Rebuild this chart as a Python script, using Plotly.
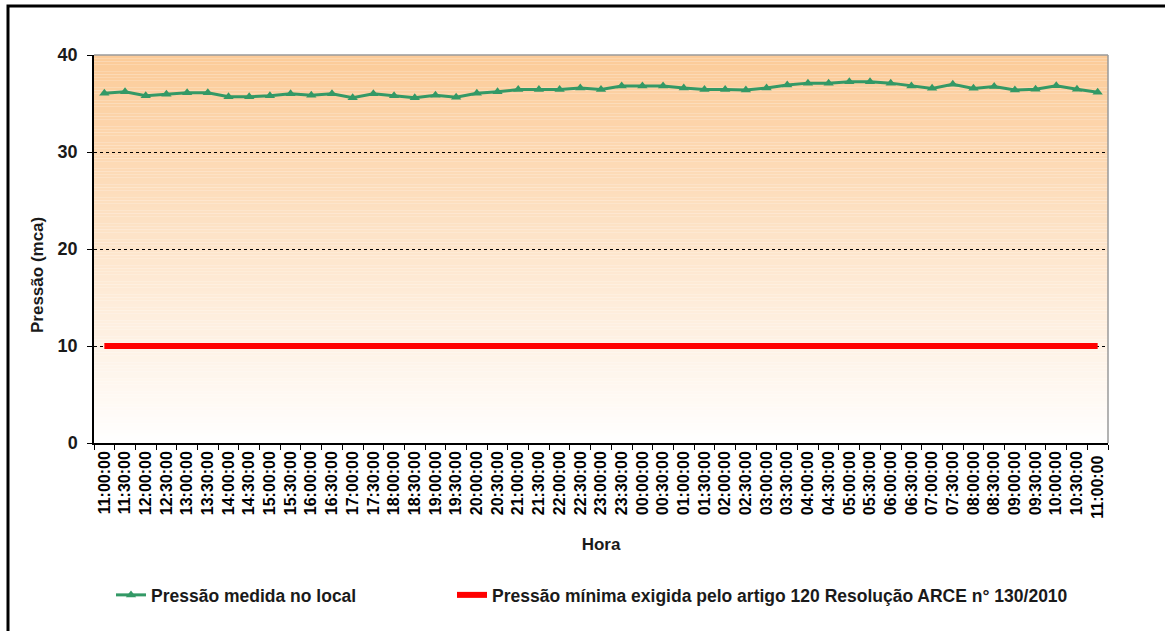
import plotly.graph_objects as go

hours = ["11:00:00", "11:30:00", "12:00:00", "12:30:00", "13:00:00", "13:30:00",
         "14:00:00", "14:30:00", "15:00:00", "15:30:00", "16:00:00", "16:30:00",
         "17:00:00", "17:30:00", "18:00:00", "18:30:00", "19:00:00", "19:30:00",
         "20:00:00", "20:30:00", "21:00:00", "21:30:00", "22:00:00", "22:30:00",
         "23:00:00", "23:30:00", "00:00:00", "00:30:00", "01:00:00", "01:30:00",
         "02:00:00", "02:30:00", "03:00:00", "03:30:00", "04:00:00", "04:30:00",
         "05:00:00", "05:30:00", "06:00:00", "06:30:00", "07:00:00", "07:30:00",
         "08:00:00", "08:30:00", "09:00:00", "09:30:00", "10:00:00", "10:30:00",
         "11:00:00 "]

pressao_medida = [36.05, 36.2, 35.8, 35.95, 36.1, 36.1, 35.7, 35.7, 35.8, 36.0,
                  35.85, 36.0, 35.6, 36.0, 35.8, 35.6, 35.85, 35.65, 36.05, 36.2,
                  36.45, 36.45, 36.45, 36.6, 36.45, 36.8, 36.8, 36.8, 36.6, 36.45,
                  36.45, 36.4, 36.6, 36.9, 37.1, 37.1, 37.25, 37.25, 37.1, 36.8,
                  36.56, 36.98, 36.56, 36.74, 36.4, 36.46, 36.84, 36.46, 36.15]

pressao_minima = [10] * len(hours)

name_medida = "Pressão medida no local"
name_minima = "Pressão mínima exigida pelo artigo 120 Resolução ARCE n° 130/2010"
y_title = "Pressão (mca)"
x_title = "Hora"

FONT = "Liberation Sans, Arial, sans-serif"
TXT = "#1a1a1a"

W, H = 1165, 631
L, R, T, B = 94, 57, 55, 188
pw, ph = W - L - R, H - T - B


def px_x(px):
    return (px - L) / pw


def px_y(py):
    return (H - B - py) / ph


fig = go.Figure()

fig.add_trace(go.Scatter(
    x=hours, y=pressao_medida, name=name_medida, mode="lines+markers",
    line=dict(color="#339966", width=3),
    marker=dict(symbol="triangle-up", size=9, color="#339966"),
))
fig.add_trace(go.Scatter(
    x=hours, y=pressao_minima, name=name_minima, mode="lines",
    line=dict(color="#ff0000", width=6), legend="legend2",
))

# gradient background
shapes = []
N = 120
top = (252, 203, 152)
bot = (255, 255, 255)
for i in range(N):
    f = (i + 0.5) / N  # 0 bottom -> 1 top
    c = tuple(round(bot[k] + (top[k] - bot[k]) * f) for k in range(3))
    shapes.append(dict(type="rect", xref="x domain", yref="y domain",
                       x0=0, x1=1, y0=i / N, y1=(i + 1) / N,
                       fillcolor="rgb(%d,%d,%d)" % c, line=dict(width=0),
                       layer="below"))
# gray top and right plot borders
shapes.append(dict(type="line", xref="x domain", yref="y domain",
                   x0=0, x1=1, y0=1, y1=1, line=dict(color="#9a9a9a", width=1.5)))
shapes.append(dict(type="line", xref="x domain", yref="y domain",
                   x0=1, x1=1, y0=0, y1=1, line=dict(color="#9a9a9a", width=1.5)))
# outer frame
shapes.append(dict(type="rect", xref="paper", yref="paper",
                   x0=px_x(8), x1=px_x(1175), y0=px_y(645), y1=px_y(6),
                   line=dict(color="black", width=3), fillcolor="rgba(0,0,0,0)"))

fig.update_layout(
    width=W, height=H,
    margin=dict(l=L, r=R, t=T, b=B, autoexpand=False),
    paper_bgcolor="white", plot_bgcolor="rgba(0,0,0,0)",
    font=dict(family=FONT, color=TXT),
    shapes=shapes,
    showlegend=True,
    legend=dict(orientation="h", x=px_x(111), xanchor="left", y=px_y(595), yanchor="middle",
                font=dict(size=17.5, family=FONT, color=TXT, weight="bold"),
                bgcolor="rgba(0,0,0,0)"),
    legend2=dict(orientation="h", x=px_x(452), xanchor="left", y=px_y(595), yanchor="middle",
                 font=dict(size=17.5, family=FONT, color=TXT, weight="bold"),
                 bgcolor="rgba(0,0,0,0)"),
    xaxis=dict(type="category", tickson="boundaries", ticks="outside", ticklen=5,
               range=[-0.5, len(hours) - 0.5], autorange=False,
               tickcolor="black", showline=True, linecolor="black", linewidth=1.5,
               tickangle=-90, showgrid=False, automargin=False,
               tickfont=dict(size=16, family=FONT, color="black", weight="bold"),
               title=dict(text=x_title, standoff=20,
                          font=dict(size=17, family=FONT, color=TXT, weight="bold"))),
    yaxis=dict(range=[0, 40], dtick=10, ticks="outside", ticklen=5, tickcolor="black",
               showline=True, linecolor="black", linewidth=1.5, zeroline=False,
               showgrid=True, gridcolor="black", griddash="dot", gridwidth=1,
               automargin=False, ticklabelstandoff=6,
               tickfont=dict(size=18, family=FONT, color=TXT, weight="bold")),
    annotations=[dict(text=y_title, xref="paper", yref="paper",
                      x=px_x(37), y=px_y(275), xanchor="center", yanchor="middle",
                      textangle=-90, showarrow=False,
                      font=dict(size=17, family=FONT, color=TXT, weight="bold"))],
)

fig.write_html("out.html", config={"displayModeBar": False},
               post_script="document.body.style.margin='0px';")
